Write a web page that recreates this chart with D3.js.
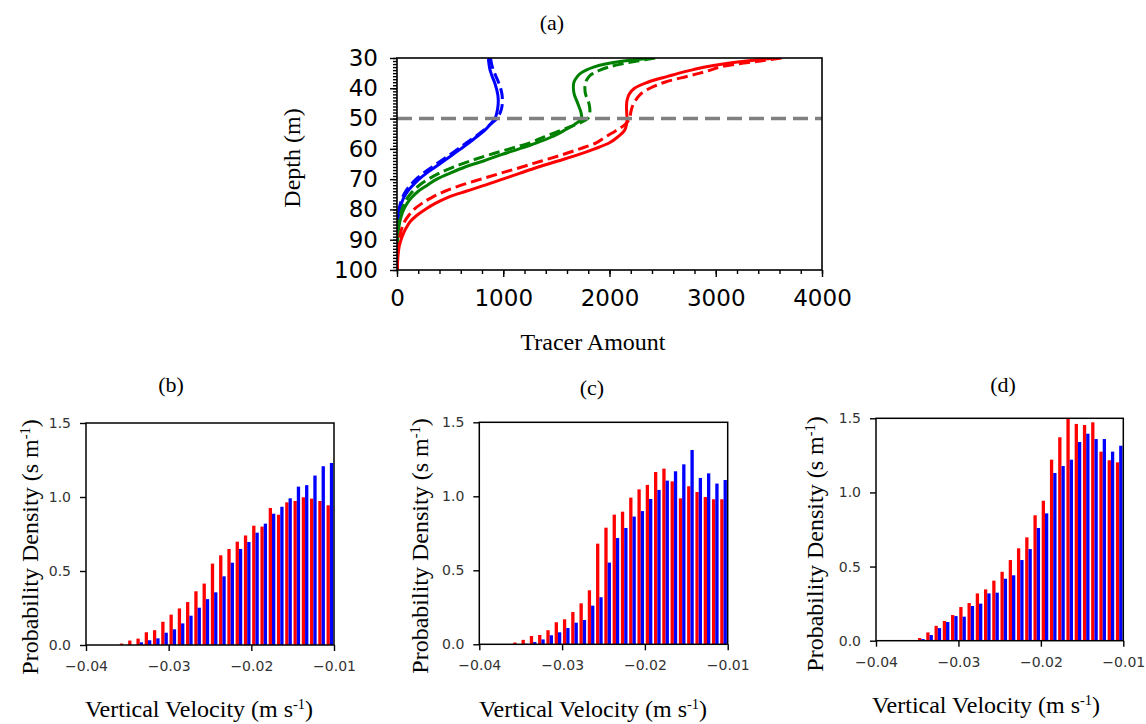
<!DOCTYPE html>
<html>
<head>
<meta charset="utf-8">
<script src="https://cdn.jsdelivr.net/npm/d3@7"></script>
<style>
  html, body { margin: 0; padding: 0; background: #fff; }
  svg { display: block; }
  .serif { font-family: "Liberation Serif", "Times New Roman", serif; fill: #000; }
  .axA text { font-family: "DejaVu Sans", sans-serif; font-size: 23px; fill: #000; }
  .axH text { font-family: "DejaVu Sans", sans-serif; font-size: 14px; fill: #333; }
  .axA path, .axH path { display: none; }
  .axA line, .axH line { stroke: #000; stroke-width: 1.4; }
</style>
</head>
<body>
<svg id="fig" width="1146" height="724"></svg>
<script>
// ---- (a) tracer amount profiles ----
const depths = [30,31,32,33,34,35,36,38,40,42,44,46,48,50,52,54,56,58,60,62,64,66,68,70,72,74,76,78,80,82,84,86,88,90,92,95,100];

const blueSolid  = [860,862,866,870,876,885,895,918,935,948,953,950,940,922,875,822,750,678,600,520,440,360,278,208,150,100,65,42,25,14,8,4,2,1,0,0,0];
const blueDashed = [880,885,890,898,905,918,930,955,975,988,992,988,972,940,875,810,735,655,575,495,412,330,250,180,125,82,52,32,18,10,5,3,1,0,0,0,0];
const greenSolid = [2400,2130,1960,1850,1780,1730,1700,1665,1660,1668,1690,1712,1732,1735,1670,1570,1460,1315,1150,975,815,640,500,375,285,200,140,95,64,42,27,17,10,6,3,1,0];
const greenDashed= [2430,2260,2110,1990,1910,1850,1810,1775,1768,1775,1798,1812,1815,1795,1680,1535,1390,1250,1060,865,690,530,400,295,210,148,102,70,46,30,16,9,5,3,1,0,0];
const redSolid   = [3560,3290,3070,2900,2770,2655,2555,2360,2235,2185,2165,2160,2162,2165,2160,2140,2080,2000,1860,1700,1515,1330,1160,995,830,650,480,360,265,185,125,88,60,38,22,10,3];
const redDashed  = [3620,3420,3200,3040,2950,2850,2740,2520,2380,2290,2245,2215,2200,2190,2145,2060,1965,1875,1720,1550,1360,1175,980,790,605,450,330,235,160,110,72,48,32,22,14,7,2];

const mixedLayerDepth = 50;
const tracerTicks = [0,1000,2000,3000,4000];
const depthTicks = [30,40,50,60,70,80,90,100];

// ---- (b)-(d) vertical velocity histograms ----
const binStart = -0.04, binWidth = 0.001, binCount = 30;
const velocityTicks = [-0.04,-0.03,-0.02,-0.01];
const densityTicks = [0,0.5,1.0,1.5];

const bRed  = [0,0,0,0,0.010,0.030,0.043,0.086,0.100,0.157,0.205,0.247,0.290,0.363,0.415,0.550,0.606,0.649,0.698,0.740,0.806,0.800,0.926,0.880,0.964,0.973,0.998,0.989,0.973,0.944];
const bBlue = [0,0,0,0,0,0,0.018,0.032,0.045,0.083,0.106,0.146,0.198,0.252,0.310,0.356,0.464,0.556,0.649,0.696,0.759,0.820,0.887,0.934,0.991,1.070,1.080,1.145,1.208,1.230];
const cRed  = [0,0,0,0,0.012,0.030,0.056,0.063,0.095,0.149,0.169,0.218,0.277,0.365,0.680,0.788,0.876,0.896,0.991,1.047,1.077,1.164,1.187,1.101,0.986,1.068,1.029,0.995,0.980,0.980];
const cBlue = [0,0,0,0,0,0.004,0.015,0.033,0.061,0.081,0.110,0.146,0.164,0.261,0.318,0.552,0.718,0.786,0.863,0.900,0.982,1.043,1.106,1.169,1.216,1.313,1.124,1.155,1.086,1.110];
const dRed  = [0,0,0,0,0,0.018,0.056,0.100,0.133,0.173,0.227,0.254,0.319,0.346,0.405,0.465,0.544,0.623,0.697,0.846,0.944,1.221,1.372,1.500,1.462,1.455,1.473,1.275,1.217,1.203];
const dBlue = [0,0,0,0,0,0.011,0.038,0.085,0.126,0.166,0.162,0.234,0.250,0.319,0.324,0.418,0.441,0.544,0.618,0.760,0.859,1.131,1.178,1.221,1.340,1.396,1.360,1.360,1.275,1.315];

const svg = d3.select("#fig");
svg.append("rect").attr("width",1146).attr("height",724).attr("fill","#fff");

// ================= panel (a) =================
(function(){
  const x = d3.scaleLinear().domain([0,4000]).range([397,822]);
  const y = d3.scaleLinear().domain([30,100]).range([58,270]);
  const g = svg.append("g");

  g.append("clipPath").attr("id","clipA").append("rect")
    .attr("x",397).attr("y",58).attr("width",425).attr("height",212);

  const series = [
    {v: blueSolid,  c:"#0000ff", dash:null},
    {v: blueDashed, c:"#0000ff", dash:"11,5"},
    {v: greenSolid, c:"#008000", dash:null},
    {v: greenDashed,c:"#008000", dash:"11,5"},
    {v: redSolid,   c:"#ff0000", dash:null},
    {v: redDashed,  c:"#ff0000", dash:"11,5"}
  ];
  const line = d3.line()
    .x(d => x(d[1])).y(d => y(d[0]))
    .curve(d3.curveCatmullRom.alpha(0.5));
  const lines = g.append("g").attr("clip-path","url(#clipA)");
  series.forEach(s => {
    lines.append("path")
      .attr("d", line(depths.map((dp,i)=>[dp, s.v[i]])))
      .attr("fill","none").attr("stroke",s.c)
      .attr("stroke-width",3)
      .attr("stroke-dasharray",s.dash);
  });

  g.append("line")
    .attr("x1",x(0)).attr("x2",x(4000))
    .attr("y1",y(mixedLayerDepth)).attr("y2",y(mixedLayerDepth))
    .attr("stroke","#808080").attr("stroke-width",3.5)
    .attr("stroke-dasharray","15,7");

  // minor ticks
  g.append("g").attr("class","axA").attr("transform","translate(0,270)")
    .call(d3.axisBottom(x).tickValues(d3.range(0,4001,200)).tickSize(4).tickFormat(""));
  g.append("g").attr("class","axA").attr("transform","translate(397,0)")
    .call(d3.axisLeft(y).tickValues(d3.range(30,101,1)).tickSize(4).tickFormat(""));
  // major ticks
  g.append("g").attr("class","axA").attr("transform","translate(0,270)")
    .call(d3.axisBottom(x).tickValues(tracerTicks).tickSize(7).tickPadding(13).tickFormat(d3.format("d")));
  g.append("g").attr("class","axA").attr("transform","translate(397,0)")
    .call(d3.axisLeft(y).tickValues(depthTicks).tickSize(7).tickPadding(12).tickFormat(d3.format("d")));

  g.append("rect").attr("x",397).attr("y",58).attr("width",425).attr("height",212)
    .attr("fill","none").attr("stroke","#000").attr("stroke-width",1.6);

  svg.append("text").attr("class","serif").attr("x",552).attr("y",30)
    .attr("text-anchor","middle").attr("font-size",22).text("(a)");
  svg.append("text").attr("class","serif").attr("x",593).attr("y",350)
    .attr("text-anchor","middle").attr("font-size",24).text("Tracer Amount");
  svg.append("text").attr("class","serif")
    .attr("transform","translate(300,158) rotate(-90)")
    .attr("text-anchor","middle").attr("font-size",24).text("Depth (m)");
})();

// ================= panels (b)-(d) =================
function superLabel(sel, pre, sup, post){
  sel.append("tspan").text(pre);
  sel.append("tspan").attr("font-size","60%").attr("dy","-0.55em").text(sup);
  sel.append("tspan").attr("dy","0.33em").text(post);
}

function histPanel(o){
  const x = d3.scaleLinear().domain([-0.04,-0.01]).range([o.left, o.right]);
  const y = d3.scaleLinear().domain([0,1.5]).range([o.bottom, o.top]);
  const g = svg.append("g");
  const cid = "clip" + o.tag;
  g.append("clipPath").attr("id",cid).append("rect")
    .attr("x",o.left).attr("y",o.top).attr("width",o.right-o.left).attr("height",o.bottom-o.top);

  const bins = d3.range(binCount).map(i => binStart + i*binWidth);
  const bars = g.append("g").attr("clip-path",`url(#${cid})`);
  [[o.red,"#ff0000",0.1],[o.blue,"#0000ff",0.5]].forEach(([vals,col,off]) => {
    bars.selectAll(null).data(bins.map((b,i)=>({b, v: vals[i]}))).join("rect")
      .attr("x", d => x(d.b + off*binWidth))
      .attr("width", d => x(d.b + (off+0.4)*binWidth) - x(d.b + off*binWidth))
      .attr("y", d => y(d.v))
      .attr("height", d => y(0) - y(d.v))
      .attr("fill", col);
  });

  g.append("g").attr("class","axH").attr("transform",`translate(0,${o.bottom})`)
    .call(d3.axisBottom(x).tickValues(velocityTicks).tickSize(6).tickPadding(10).tickFormat(d3.format(".2f")));
  g.append("g").attr("class","axH").attr("transform",`translate(${o.left},0)`)
    .call(d3.axisLeft(y).tickValues(densityTicks).tickSize(6).tickPadding(9).tickFormat(d3.format(".1f")));

  g.append("rect").attr("x",o.left).attr("y",o.top)
    .attr("width",o.right-o.left).attr("height",o.bottom-o.top)
    .attr("fill","none").attr("stroke","#000").attr("stroke-width",1.5);

  svg.append("text").attr("class","serif").attr("x",o.titleX).attr("y",o.titleY)
    .attr("text-anchor","middle").attr("font-size",22).text(o.tag);
  const xl = svg.append("text").attr("class","serif").attr("x",o.xlabX).attr("y",o.xlabY)
    .attr("text-anchor","middle").attr("font-size",24);
  superLabel(xl, "Vertical Velocity (m s", "-1", ")");
  const yl = svg.append("text").attr("class","serif")
    .attr("transform",`translate(${o.ylabX},${o.ylabY}) rotate(-90)`)
    .attr("text-anchor","middle").attr("font-size",24);
  superLabel(yl, "Probability Density (s m", "-1", ")");
}

histPanel({tag:"(b)", left:86, right:334, top:423, bottom:645, red:bRed, blue:bBlue,
  titleX:171, titleY:392, xlabX:199, xlabY:717, ylabX:38, ylabY:547});
histPanel({tag:"(c)", left:479.3, right:727.7, top:422.3, bottom:644.3, red:cRed, blue:cBlue,
  titleX:592, titleY:395, xlabX:593, xlabY:717, ylabX:428, ylabY:546});
histPanel({tag:"(d)", left:876, right:1123.3, top:418.3, bottom:640.7, red:dRed, blue:dBlue,
  titleX:1003, titleY:392, xlabX:986, xlabY:713, ylabX:823, ylabY:544});
</script>
</body>
</html>
